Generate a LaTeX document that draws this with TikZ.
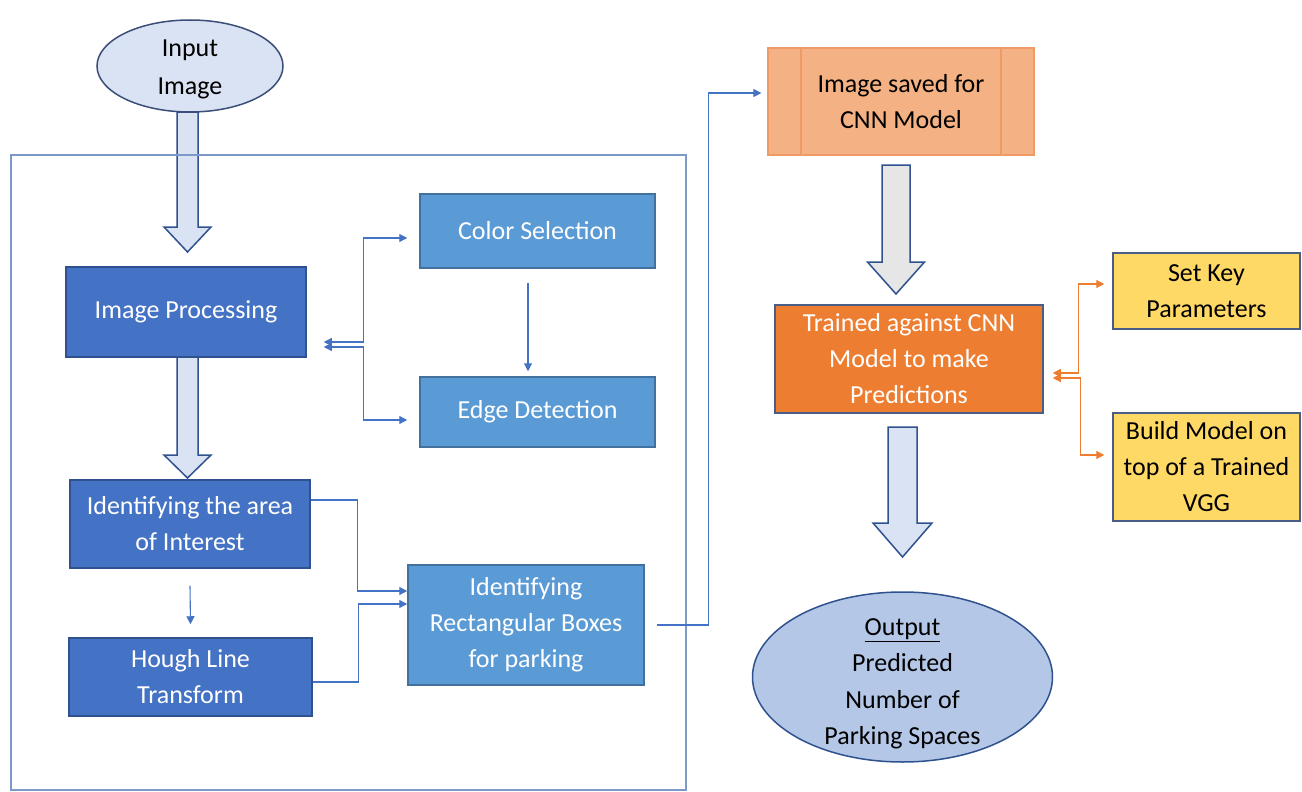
\documentclass[tikz,border=0pt]{standalone}
\usepackage{fontspec}
\setmainfont{Carlito}
\usetikzlibrary{arrows.meta,shapes.geometric}
\definecolor{dblue}{HTML}{4472C4}
\definecolor{dblueb}{HTML}{2F528F}
\definecolor{mblue}{HTML}{5B9BD5}
\definecolor{mblueb}{HTML}{41719C}
\definecolor{lav}{HTML}{DAE3F3}
\definecolor{lavb}{HTML}{3B4E78}
\definecolor{conncol}{HTML}{4472C4}
\definecolor{framecol}{HTML}{7C99C9}
\definecolor{salmon}{HTML}{F4B183}
\definecolor{salmonb}{HTML}{F09A68}
\definecolor{orng}{HTML}{ED7D31}
\definecolor{yel}{HTML}{FFD966}
\definecolor{grayb}{HTML}{4A5D86}
\definecolor{lgray}{HTML}{E7E6E6}
\definecolor{outfill}{HTML}{B4C7E7}
\newcommand\fatarrow[7]{\draw[#1] ({#2-#5},#3) -- ({#2+#5},#3) -- ({#2+#5},#4) -- ({#2+#6},#4) -- (#2,#7) -- ({#2-#6},#4) -- ({#2-#5},#4) -- cycle;}
\tikzset{
  txt/.style={font=\fontsize{26}{36}\selectfont, align=center, inner sep=0pt},
  darkbox/.style={txt, draw=dblueb, fill=dblue, line width=1.5pt, text=white},
  midbox/.style={txt, draw=mblueb, fill=mblue, line width=1.5pt, text=white},
  oval/.style={txt, ellipse, line width=1.5pt},
  fatblue/.style={draw=dblueb, fill=lav, line width=1.5pt, line join=miter},
  fatgray/.style={draw=dblueb, fill=lgray, line width=1.5pt, line join=miter},
  conn/.style={draw=conncol, line width=1.1pt, arrows={-Triangle[length=8pt,width=8pt]}},
  bconn/.style={draw=conncol, line width=1.1pt, arrows={Triangle[length=8pt,width=8pt]-Triangle[length=8pt,width=8pt]}},
  oconn/.style={draw=orng, line width=1.1pt, arrows={Triangle[length=8pt,width=8pt]-Triangle[length=8pt,width=8pt]}},
  framebox/.style={draw=framecol, line width=1.1pt},
}
\begin{document}
\begin{tikzpicture}[x=1pt,y=-1pt]
\useasboundingbox (0,0) rectangle (1302,792);
\fill[white] (0,0) rectangle (1302,792);

% block arrows (drawn before nodes)
\fatarrow{fatblue}{187.5}{112}{227}{10.5}{23.5}{252}
\fatarrow{fatblue}{187.5}{357}{455}{10.5}{23.5}{478}
\fatarrow{fatgray}{896}{165}{262}{14}{28.5}{294}
\fatarrow{fatblue}{902.5}{427}{523}{14.5}{29.5}{557}

% outer frame
\draw[framebox] (11,155) rectangle (686,790);

% nodes
\node[oval, draw=lavb, fill=lav, minimum width=186pt, minimum height=92pt] (in) at (190,66) {};
\node[txt, font=\fontsize{26}{38}\selectfont] (intxt) at (190,69) {Input\\Image};
\node[darkbox, minimum width=240pt, minimum height=90pt] (ip) at (186,312) {Image Processing};
\node[darkbox, minimum width=240pt, minimum height=88pt] (ia) at (190,524) {Identifying the area\\of Interest};
\node[darkbox, minimum width=243pt, minimum height=78pt] (hl) at (190.5,677) {Hough Line\\Transform};
\node[midbox, minimum width=235pt, minimum height=74pt] (cs) at (537.5,231) {Color Selection};
\node[midbox, minimum width=235pt, minimum height=70pt] (ed) at (537.5,412) {Edge Detection};
\node[midbox, minimum width=236pt, minimum height=120pt] (rb) at (526,625) {Identifying\\Rectangular Boxes\\for parking};
\node[txt, draw=salmonb, fill=salmon, line width=1.2pt, minimum width=266pt, minimum height=107pt] (is) at (901,101.5) {Image saved for\\CNN Model};
\draw[salmonb, line width=1.2pt] (801,48) -- (801,155) (1001,48) -- (1001,155);
\node[txt, draw=grayb, fill=orng, line width=1.5pt, text=white, minimum width=268pt, minimum height=108pt] (tr) at (909,359) {Trained against CNN\\Model to make\\Predictions};
\node[txt, draw=grayb, fill=yel, line width=1.5pt, minimum width=187pt, minimum height=76pt] (sk) at (1206.5,291) {Set Key\\Parameters};
\node[txt, draw=grayb, fill=yel, line width=1.5pt, minimum width=187pt, minimum height=108pt] (bm) at (1206.5,467) {Build Model on\\top of a Trained\\VGG};
\node[oval, draw=dblueb, fill=outfill, minimum width=300pt, minimum height=170pt] (out) at (902.5,677) {};
\node[txt, font=\fontsize{26}{36.5}\selectfont] (outtxt) at (902.5,684) {\underline{Output}\\Predicted\\Number of\\Parking Spaces};

% thin connectors
\draw[bconn] ([xshift=17pt,yshift=-30pt]ip.east) -- ++(40,0) |- ([xshift=-12pt,yshift=-7pt]cs.west);
\draw[bconn] ([xshift=17pt,yshift=-35pt]ip.east) -- ++(40,0) |- ([xshift=-12pt,yshift=-8pt]ed.west);
\draw[conn] ([xshift=-9.5pt,yshift=-14pt]cs.south) -- ([xshift=-9.5pt,yshift=5pt]ed.north);
\draw[conn] ([yshift=-17pt]ia.south) -- ([yshift=13pt]hl.north);
\draw[conn] ([yshift=24pt]ia.east) -- ++(47,0) |- ([yshift=34pt]rb.west);
\draw[conn] ([yshift=-5pt]hl.east) -- ++(46,0) |- ([yshift=21pt]rb.west);
\draw[conn] ([xshift=12pt]rb.east) -- ++(52,0) |- ([xshift=-6pt,yshift=8.5pt]is.west);
\draw[oconn] ([xshift=9pt,yshift=-14pt]tr.east) -- ++(26,0) |- ([xshift=-8pt,yshift=7pt]sk.west);
\draw[oconn] ([xshift=9pt,yshift=-19pt]tr.east) -- ++(28,0) |- ([xshift=-8pt,yshift=12pt]bm.west);
\end{tikzpicture}
\end{document}
